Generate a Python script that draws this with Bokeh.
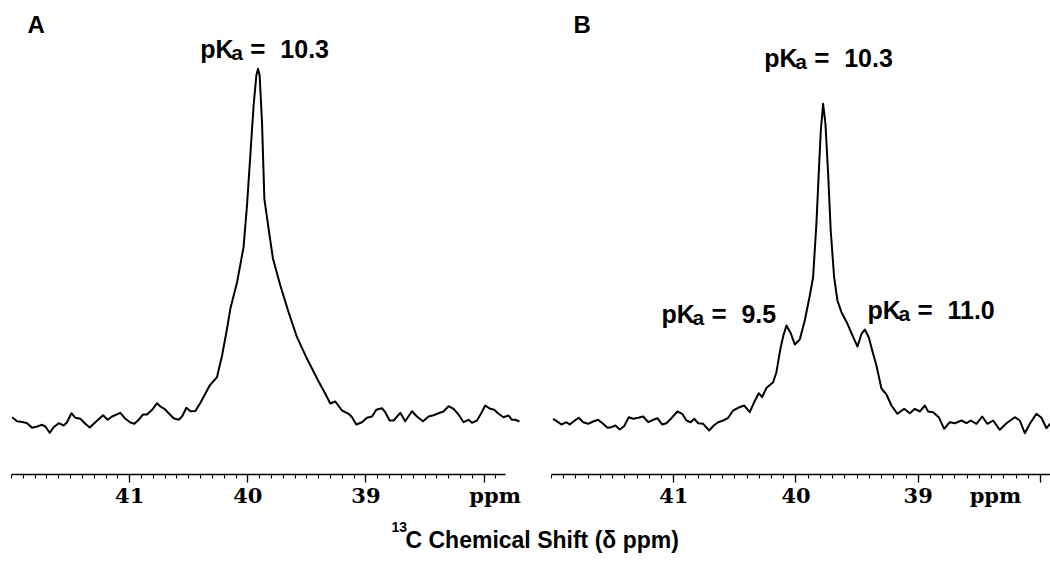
from bokeh.plotting import figure
from bokeh.models import Range1d, Label, FixedTicker
from bokeh.layouts import column, row
from bokeh.embed import file_html
from bokeh.resources import INLINE

# ---------------- data ----------------
ppm_a = [41.995, 41.953, 41.897, 41.868, 41.826, 41.783, 41.741, 41.713, 41.677, 41.643,
         41.601, 41.558, 41.530, 41.493, 41.459, 41.417, 41.375, 41.338, 41.290, 41.225,
         41.186, 41.149, 41.079, 41.036, 40.994, 40.960, 40.924, 40.887, 40.853, 40.810,
         40.768, 40.740, 40.706, 40.670, 40.628, 40.585, 40.557, 40.520, 40.486, 40.444,
         40.402, 40.360, 40.323, 40.261, 40.218, 40.176, 40.148, 40.091, 40.036, 40.007,
         39.979, 39.951, 39.928, 39.914, 39.900, 39.880, 39.860, 39.824, 39.787, 39.725,
         39.655, 39.584, 39.499, 39.401, 39.344, 39.302, 39.260, 39.203, 39.147, 39.118,
         39.082, 39.034, 38.992, 38.949, 38.913, 38.865, 38.837, 38.800, 38.766, 38.710,
         38.668, 38.611, 38.569, 38.518, 38.470, 38.428, 38.386, 38.344, 38.301, 38.259,
         38.217, 38.174, 38.132, 38.103, 38.061, 38.027, 37.991, 37.948, 37.915, 37.878,
         37.836, 37.794, 37.765, 37.737, 37.701]
int_a = [23.3, 19.3, 18.3, 17.3, 12.7, 14.0, 15.7, 14.0, 7.7, 13.3,
         17.3, 15.0, 18.3, 27.3, 22.7, 21.7, 16.7, 13.0, 18.3, 25.3,
         20.7, 24.0, 27.7, 21.7, 18.0, 16.7, 20.7, 26.0, 26.0, 30.7,
         37.3, 34.0, 31.7, 27.3, 22.3, 20.7, 24.0, 32.7, 29.3, 29.5,
         37.5, 46.7, 55.0, 63.3, 85.0, 111.7, 131.7, 158.3, 193.3, 235.0,
         285.0, 335.0, 365.0, 371.7, 365.0, 318.3, 241.7, 211.7, 181.7, 155.0,
         128.3, 103.3, 81.7, 59.0, 46.7, 37.0, 39.0, 30.0, 26.7, 23.3,
         16.0, 18.3, 22.7, 24.0, 30.7, 32.3, 28.3, 20.0, 20.0, 27.7,
         19.3, 29.3, 24.0, 19.3, 24.0, 25.3, 27.3, 29.0, 34.3, 31.7,
         26.0, 18.3, 20.7, 17.7, 20.0, 26.7, 35.0, 31.7, 30.7, 26.7,
         23.3, 25.0, 20.7, 20.7, 19.0]

ppm_b = [41.987, 41.946, 41.919, 41.878, 41.851, 41.810, 41.777, 41.741, 41.700, 41.659,
         41.619, 41.578, 41.542, 41.510, 41.477, 41.442, 41.406, 41.368, 41.332, 41.291,
         41.250, 41.209, 41.169, 41.133, 41.095, 41.060, 41.019, 40.970, 40.931, 40.896,
         40.861, 40.833, 40.800, 40.759, 40.710, 40.673, 40.637, 40.596, 40.555, 40.514,
         40.473, 40.424, 40.378, 40.342, 40.305, 40.277, 40.242, 40.187, 40.160, 40.125,
         40.103, 40.078, 40.043, 40.010, 39.969, 39.928, 39.887, 39.860, 39.833, 39.814,
         39.797, 39.778, 39.759, 39.737, 39.716, 39.688, 39.661, 39.628, 39.579, 39.532,
         39.497, 39.464, 39.437, 39.405, 39.369, 39.342, 39.301, 39.260, 39.219, 39.170,
         39.115, 39.069, 39.028, 38.987, 38.946, 38.919, 38.878, 38.832, 38.788, 38.742,
         38.701, 38.646, 38.605, 38.570, 38.524, 38.477, 38.434, 38.387, 38.333, 38.278,
         38.210, 38.169, 38.128, 38.087, 38.033, 37.992, 37.951, 37.910]
int_b = [21.7, 18.3, 16.0, 18.3, 16.0, 20.0, 22.7, 18.3, 16.7, 19.0,
         20.7, 16.7, 12.7, 13.3, 15.0, 11.0, 14.3, 23.3, 21.7, 22.7,
         24.0, 18.3, 20.7, 22.3, 16.0, 17.3, 22.3, 29.0, 26.7, 20.0,
         18.3, 21.7, 17.3, 16.7, 10.0, 15.0, 18.3, 20.0, 22.7, 30.0,
         32.7, 35.0, 28.3, 38.3, 47.3, 43.5, 52.5, 58.3, 68.3, 93.3,
         105.0, 115.0, 107.3, 96.0, 101.0, 120.0, 145.0, 163.3, 216.7, 266.7,
         310.0, 336.7, 316.7, 266.7, 210.0, 163.3, 140.0, 128.3, 116.7, 103.3,
         94.0, 106.7, 111.0, 103.3, 86.7, 75.0, 52.0, 46.0, 35.0, 26.7,
         31.7, 27.3, 31.7, 29.0, 35.0, 29.0, 28.3, 23.3, 11.7, 18.3,
         17.3, 20.0, 17.3, 20.0, 16.7, 24.0, 16.7, 20.0, 10.7, 17.3,
         23.3, 20.0, 7.3, 16.7, 26.7, 22.7, 12.3, 18.3]

major_ticks = [41, 40, 39, 38]
NB = "\u00a0"
tick_labels_a = {41: "41", 40: "40", 39: "39", 38: NB * 3 + "ppm"}
tick_labels_b = {41: "41", 40: "40", 39: "39", 38: "ppm" + NB * 4}
minor_ticks_a = [round(37.9 + 0.1 * i, 1) for i in range(42)]
minor_ticks_b = [round(37.5 + 0.1 * i, 1) for i in range(46)]

# pKa annotations: (ppm, intensity of text baseline, value)
pka_a = [(40.402, 392, "10.3")]
pka_b = [(40.260, 383, "10.3"), (41.101, 127, "9.5"), (39.415, 131, "11.0")]

LABEL_FONT = "Liberation Sans"
TICK_FONT = "DejaVu Serif"


def make_panel(width, border_left, x_start, x_end, bounds, minor, labels, ppm, inten):
    p = figure(width=width, height=514, output_backend="svg", toolbar_location=None,
               x_range=Range1d(x_start, x_end), y_range=Range1d(-34, 432),
               y_axis_location=None, min_border_left=border_left, min_border_right=0,
               min_border_top=8, min_border_bottom=40)
    p.outline_line_color = None
    p.grid.visible = False
    p.background_fill_color = "white"
    p.border_fill_color = "white"
    p.line(ppm, inten, line_color="black", line_width=2, line_join="round")
    ax = p.xaxis[0]
    ax.ticker = FixedTicker(ticks=major_ticks, minor_ticks=minor)
    ax.major_label_overrides = labels
    ax.bounds = bounds
    ax.axis_line_color = "black"
    ax.axis_line_width = 1.3
    ax.major_tick_line_color = "black"
    ax.major_tick_line_width = 1.3
    ax.minor_tick_line_color = "black"
    ax.minor_tick_line_width = 1.1
    ax.major_tick_in = 0
    ax.major_tick_out = 8
    ax.minor_tick_in = 0
    ax.minor_tick_out = 4
    ax.major_label_standoff = 0
    ax.major_label_text_font = TICK_FONT
    ax.major_label_text_font_style = "bold"
    ax.major_label_text_font_size = "21px"
    ax.major_label_text_color = "black"
    return p


def add_pka(p, x, y, num):
    common = dict(text_font=LABEL_FONT, text_font_style="bold", text_color="black",
                  text_baseline="alphabetic", text_align="left")
    p.add_layout(Label(x=x, y=y, text="pK", text_font_size="25px", **common))
    p.add_layout(Label(x=x, y=y - 4, x_offset=31, text="a", text_font_size="21px", **common))
    p.add_layout(Label(x=x, y=y, x_offset=50, text="=", text_font_size="26px", **common))
    p.add_layout(Label(x=x, y=y, x_offset=80, text=num, text_font_size="25px", **common))


def add_text(p, x, y, text, size, font=LABEL_FONT, style="bold"):
    p.add_layout(Label(x=x, y=y, text=text, text_font=font, text_font_style=style,
                       text_font_size=size, text_color="black",
                       text_baseline="alphabetic", text_align="left"))


pA = make_panel(538, 11, 42.0, 37.54, (37.82, 42.0), minor_ticks_a, tick_labels_a, ppm_a, int_a)
pB = make_panel(512, 13, 42.0, 37.918, (37.5, 42.0), minor_ticks_b, tick_labels_b, ppm_b, int_b)

for (x, y, n) in pka_a:
    add_pka(pA, x, y, n)
for (x, y, n) in pka_b:
    add_pka(pB, x, y, n)

add_text(pA, 41.865, 416, "A", "24px")
add_text(pB, 41.821, 416, "B", "24px")

# bottom title
pT = figure(width=1050, height=53, output_backend="svg", toolbar_location=None,
            x_range=Range1d(0, 1050), y_range=Range1d(0, 53),
            x_axis_location=None, y_axis_location=None,
            min_border_left=0, min_border_right=0, min_border_top=0, min_border_bottom=0)
pT.outline_line_color = None
pT.grid.visible = False
add_text(pT, 391, 41, "13", "14px")
add_text(pT, 405, 28, "C Chemical Shift (\u03b4 ppm)", "23px")

layout = column(row(pA, pB), pT)
open("out.html", "w").write(file_html(layout, INLINE))
